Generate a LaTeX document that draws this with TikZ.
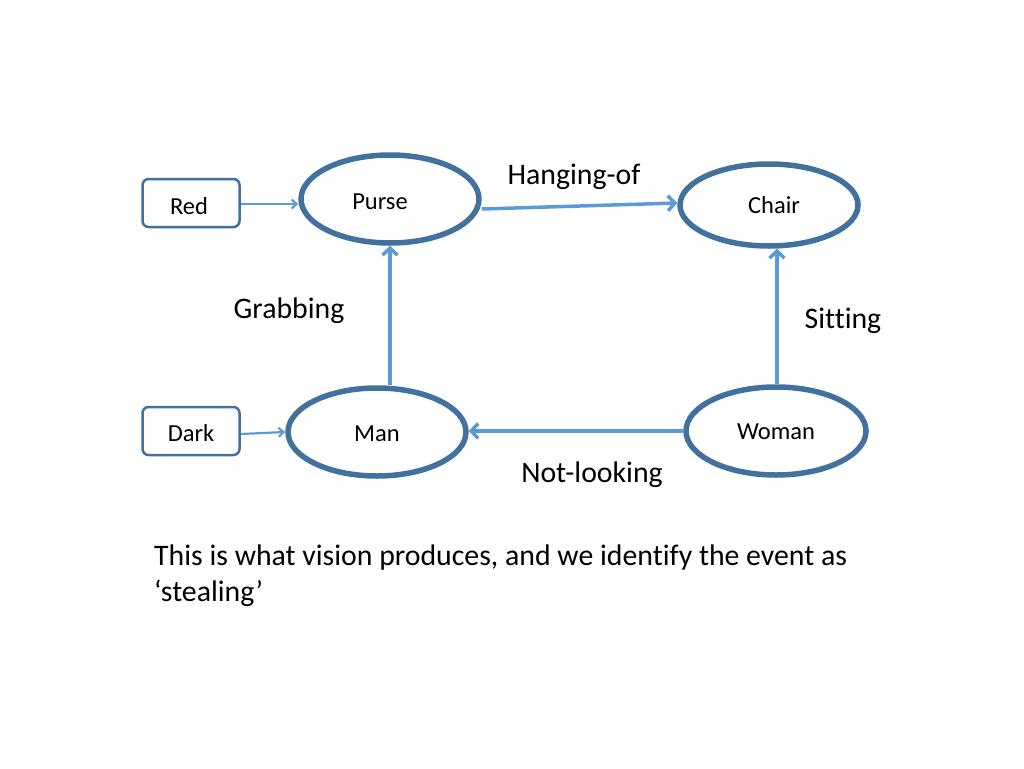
\documentclass[tikz,border=0pt]{standalone}
\usepackage{fontspec}
\setmainfont[Ligatures=NoCommon]{Carlito}
\usetikzlibrary{arrows.meta,shapes.geometric}
\definecolor{ringblue}{HTML}{41719C}
\definecolor{arrowblue}{HTML}{5B9BD5}
\tikzset{
  ring/.style={ellipse, draw=ringblue, line width=5.5pt, minimum width=178pt, minimum height=88pt, inner sep=0pt, font=\fontsize{24.5}{29}\selectfont},
  ringtext/.style={font=\fontsize{24.5}{29}\selectfont},
  attrbox/.style={rectangle, rounded corners=6pt, draw=ringblue, line width=2.5pt, minimum width=97pt, minimum height=48pt, inner sep=0pt, font=\fontsize{24.5}{29}\selectfont},
  rel/.style={draw=arrowblue, line width=3.5pt, -{Straight Barb[length=7pt,width=15pt,line width=3.5pt]}},
  attr/.style={draw=arrowblue, line width=2.2pt, -{Straight Barb[length=5pt,width=9pt,line width=2.2pt]}},
  rellabel/.style={font=\fontsize{29.8}{36}\selectfont, inner sep=0pt}
}
\begin{document}
\begin{tikzpicture}[x=1pt,y=-1pt]
\useasboundingbox (0,0) rectangle (1024,768);
\node[ring, label={[xshift=-10pt,yshift=-3pt,ringtext]center:Purse}] (purse) at (390,199) {};
\node[ring, minimum height=82pt, label={[xshift=5pt,ringtext]center:Chair}] (chair) at (769,205) {};
\node[ring, label={[yshift=-2pt,ringtext]center:Man}] (man) at (377,432) {};
\node[ring, minimum width=180pt, label={[yshift=-1pt,ringtext]center:Woman}] (woman) at (776,431) {};
\node[attrbox, label={[xshift=-2pt,yshift=-3pt,ringtext]center:Red}] (red) at (191,203) {};
\node[attrbox, label={[yshift=-2pt,ringtext]center:Dark}] (dark) at (191,431) {};
\draw[attr] ([yshift=-1pt]red.east) -- ([yshift=-5pt]purse.west);
\draw[attr] ([yshift=-3pt]dark.east) -- (man.west);
\draw[rel] ([yshift=-10pt]purse.east) -- ([yshift=2pt]chair.west);
\draw[rel] ([xshift=13pt]man.north) -- (purse.south);
\draw[rel] ([xshift=1pt]woman.north) -- ([xshift=1pt]woman.north |- chair.south);
\draw[rel] (woman.west) -- (woman.west -| man.east);
\node[rellabel] (lhang) at (574,177) {Hanging-of};
\node[rellabel] (lgrab) at (289,311) {Grabbing};
\node[rellabel] (lsit) at (843,321) {Sitting};
\node[rellabel] (lnot) at (592,475) {Not-looking};
\node[rellabel, anchor=north west, align=left] (caption) at (154,545) {This is what vision produces, and we identify the event as\\‘stealing’};
\end{tikzpicture}
\end{document}
